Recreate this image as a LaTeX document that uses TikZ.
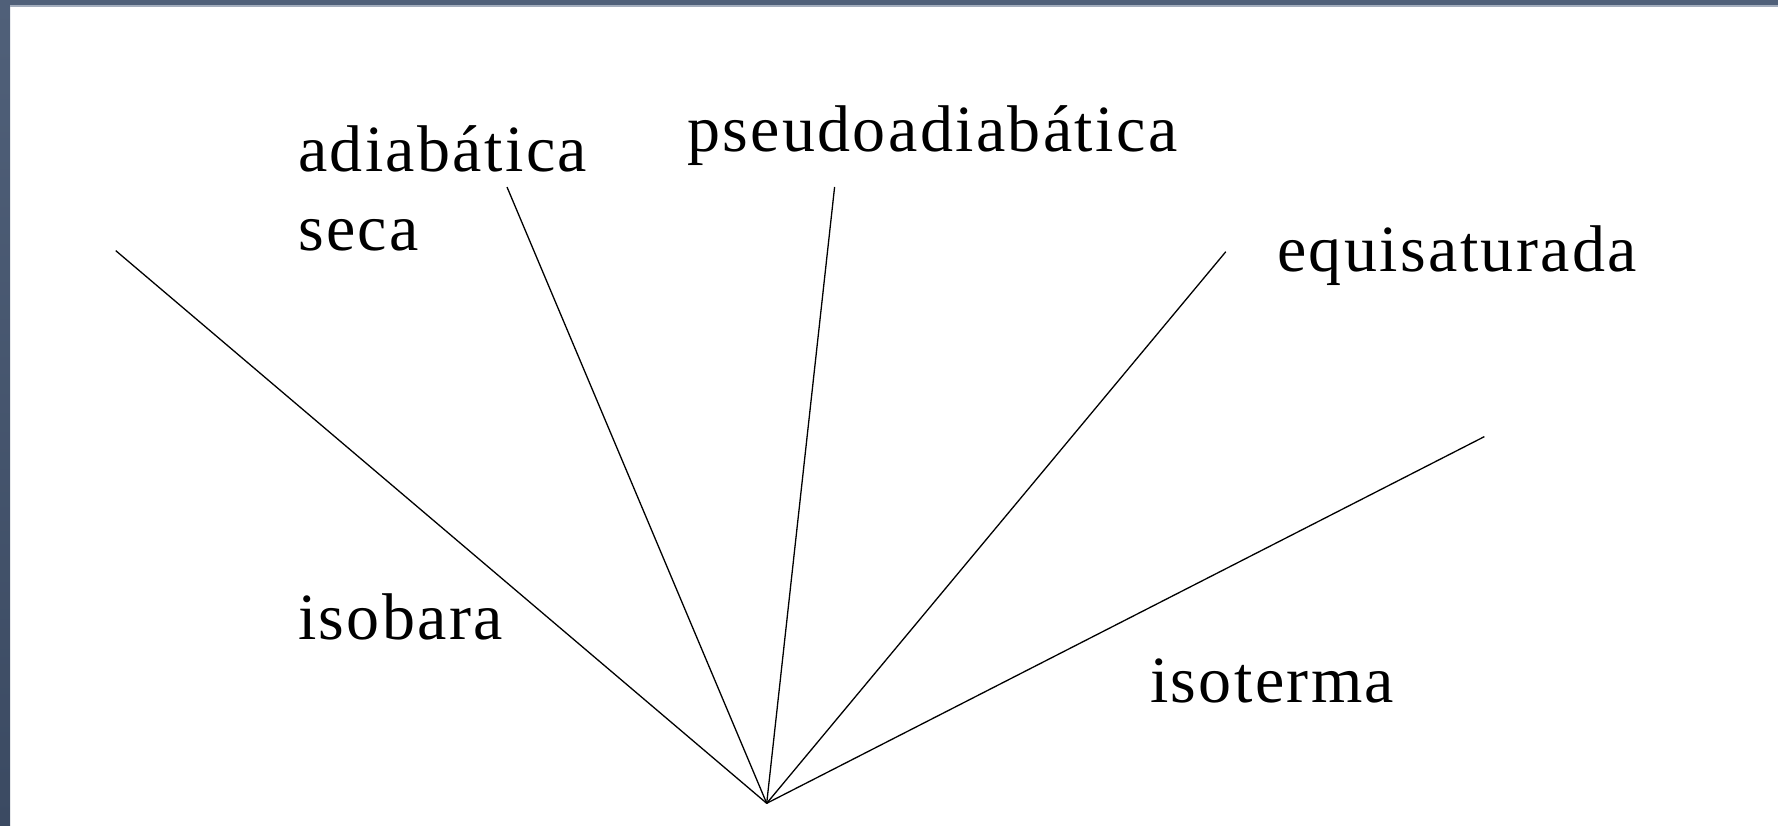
\documentclass[tikz,border=0pt]{standalone}
\usepackage{fontspec}
\setmainfont{Liberation Serif}[LetterSpace=3.6]
\definecolor{bartop}{HTML}{506079}
\definecolor{barbot}{HTML}{3B4A62}
\definecolor{barline}{HTML}{A3ADBD}
\begin{document}
\begin{tikzpicture}[x=1pt,y=-1pt,
  lbl/.style={anchor=base west,inner sep=0pt,font=\fontsize{66}{79}\selectfont},
  ray/.style={draw=black,line width=1.3pt}]
\useasboundingbox (0,0) rectangle (1778,825);
\fill[white] (0,0) rectangle (1778,825);
% frame
\shade[top color=bartop,bottom color=barbot] (0,0) rectangle (10,825);
\fill[bartop] (0,0) rectangle (1778,5);
\fill[barline] (10,5) rectangle (1778,6.5);
% labels
\node[lbl] (adia) at (298,171.7) {adiabática};
\node[lbl] (seca) at (298,250.7) {seca};
\node[lbl] (pseudo) at (687,151.7) {pseudoadiabática};
\node[lbl] (equi) at (1277,271.7) {equisaturada};
\node[lbl] (isob) at (298,639.3) {isobara};
\node[lbl] (isot) at (1150,702.7) {isoterma};
% rays
\coordinate (O) at (766.7,803.3);
\coordinate (eb) at (115.7,250.6);
\coordinate (ea) at (507,187);
\coordinate (ep) at (834.6,187);
\coordinate (ee) at (1225.8,251.7);
\coordinate (et) at (1484.4,436.6);
\draw[ray] (O) -- (eb);
\draw[ray] (O) -- (ea);
\draw[ray] (O) -- (ep);
\draw[ray] (O) -- (ee);
\draw[ray] (O) -- (et);
\end{tikzpicture}
\end{document}
